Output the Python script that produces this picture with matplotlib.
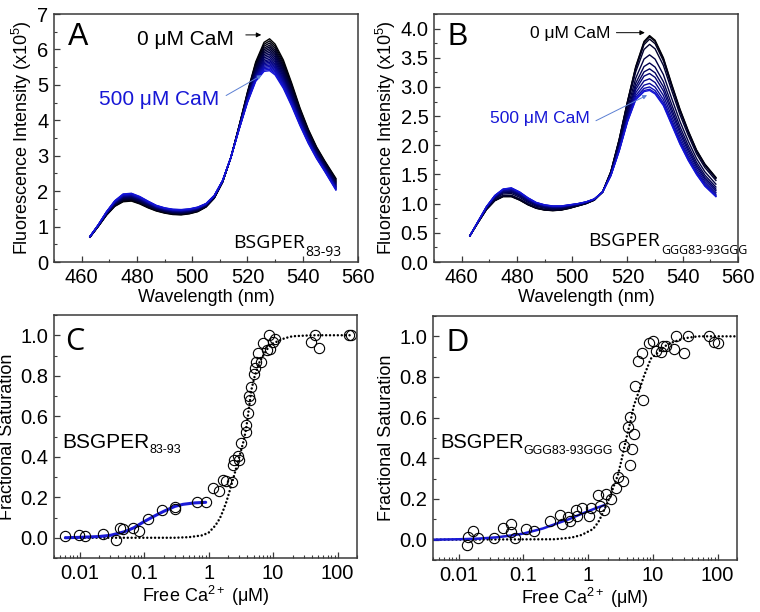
import numpy as np
import matplotlib
matplotlib.use("Agg")
import matplotlib.pyplot as plt
from matplotlib.colors import LinearSegmentedColormap
from matplotlib.ticker import MultipleLocator, FixedLocator, LogLocator, NullFormatter, FixedFormatter

plt.rcParams['font.family'] = ['Liberation Sans', 'DejaVu Sans']
plt.rcParams['mathtext.fontset'] = 'custom'
plt.rcParams['mathtext.rm'] = 'Liberation Sans'
plt.rcParams['mathtext.it'] = 'Liberation Sans:italic'
plt.rcParams['mathtext.default'] = 'regular'

# ---------------- data ----------------
wavelength = [463, 466, 469, 472, 475, 478, 481, 484, 487, 490, 493, 496, 499, 502,
              505, 508, 511, 514, 517, 520, 523, 526, 528, 530, 533, 536, 539, 542,
              545, 548, 552]

# Panel A spectra (x10^5)
specA_0uM = [0.70, 1.00, 1.32, 1.57, 1.70, 1.72, 1.64, 1.53, 1.44, 1.38, 1.34, 1.33, 1.36, 1.42,
             1.55, 1.80, 2.25, 2.95, 3.85, 4.80, 5.65, 6.20, 6.30, 6.15, 5.70, 5.05, 4.35, 3.75,
             3.25, 2.85, 2.36]
specA_500uM = [0.72, 1.05, 1.42, 1.73, 1.92, 1.94, 1.85, 1.72, 1.60, 1.53, 1.49, 1.48, 1.50, 1.55,
               1.65, 1.88, 2.30, 2.95, 3.75, 4.50, 5.10, 5.38, 5.40, 5.28, 4.90, 4.40, 3.85, 3.35,
               2.92, 2.55, 2.03]
peaksA = [6.30, 6.24, 6.18, 6.12, 6.07, 6.02, 5.97, 5.92, 5.87, 5.82, 5.77, 5.72, 5.68, 5.64,
          5.60, 5.56, 5.52, 5.48, 5.44, 5.40]

# Panel B spectra (x10^5)
specB_0uM = [0.45, 0.68, 0.90, 1.05, 1.12, 1.12, 1.06, 0.98, 0.92, 0.89, 0.88, 0.89, 0.92, 0.96,
             1.00, 1.06, 1.20, 1.55, 2.10, 2.75, 3.35, 3.78, 3.88, 3.80, 3.50, 3.05, 2.62, 2.25,
             1.92, 1.68, 1.45]
specB_500uM = [0.45, 0.70, 0.95, 1.14, 1.25, 1.27, 1.20, 1.10, 1.02, 0.98, 0.96, 0.96, 0.98, 1.00,
               1.03, 1.08, 1.20, 1.48, 1.90, 2.40, 2.78, 2.92, 2.94, 2.88, 2.68, 2.35, 2.02, 1.74,
               1.50, 1.30, 1.12]
peaksB = [3.88, 3.86, 3.82, 3.73, 3.55, 3.41, 3.31, 3.23, 3.14, 3.06, 3.00, 2.96, 2.94]

# Panel C titration
caC = [0.0059, 0.0099, 0.0121, 0.023, 0.037, 0.042, 0.047, 0.066, 0.083, 0.115, 0.19, 0.30,
       0.305, 0.65, 0.90, 1.17, 1.45, 1.68, 1.84, 2.34, 2.40, 2.50, 2.90, 2.95, 3.23, 3.77,
       3.77, 4.10, 4.25, 4.45, 4.60, 5.0, 5.2, 5.5, 5.86, 6.6, 7.0, 7.9, 8.7, 9.0, 10.0, 10.6,
       39, 44, 52, 151, 160]
fsC = [0.01, 0.013, 0.01, 0.02, -0.012, 0.05, 0.043, 0.05, 0.033, 0.095, 0.137, 0.15,
       0.14, 0.175, 0.175, 0.247, 0.23, 0.285, 0.28, 0.276, 0.358, 0.383, 0.405, 0.386, 0.47, 0.559,
       0.523, 0.618, 0.699, 0.68, 0.745, 0.81, 0.836, 0.87, 0.91, 0.87, 0.964, 0.926, 1.0, 0.934, 0.967, 0.98,
       0.967, 1.0, 0.937, 1.0, 1.0]
fitC_blue_x = [0.006, 0.01, 0.02, 0.03, 0.05, 0.07, 0.1, 0.15, 0.2, 0.3, 0.4, 0.6, 0.9]
fitC_blue_y = [0.0, 0.002, 0.006, 0.012, 0.03, 0.05, 0.08, 0.11, 0.13, 0.155, 0.165, 0.172, 0.175]
fitC_dot_x = [0.006, 0.3, 0.5, 0.8, 1.0, 1.27, 1.49, 1.66, 1.89, 2.3, 2.6, 3.0, 3.5, 3.8, 4.1,
              4.6, 5.1, 6.0, 6.6, 8.0, 10, 15, 20, 40, 160]
fitC_dot_y = [0.0, 0.0, 0.003, 0.012, 0.025, 0.06, 0.095, 0.13, 0.178, 0.27, 0.33, 0.40, 0.48,
              0.535, 0.61, 0.73, 0.79, 0.86, 0.885, 0.93, 0.96, 0.985, 0.995, 1.0, 1.0]

# Panel D titration
caD = [0.0137, 0.0135, 0.0166, 0.0196, 0.0346, 0.048, 0.065, 0.064, 0.074, 0.109, 0.146, 0.257,
       0.366, 0.39, 0.49, 0.53, 0.66, 0.68, 0.79, 1.03, 1.11, 1.43, 1.51, 1.74, 1.91, 2.29, 2.73,
       2.9, 3.45, 3.54, 4.12, 4.38, 4.38, 4.7, 5.05, 5.23, 5.89, 6.86, 7.0, 8.67, 10.2, 11.0,
       13.4, 14.3, 16.0, 21.5, 22.8, 30.7, 34.5, 74.5, 86.7, 100]
fsD = [0.011, -0.026, 0.042, 0.007, 0.007, 0.059, 0.075, 0.039, 0.007, 0.052, 0.044, 0.093,
       0.121, 0.077, 0.11, 0.093, 0.147, 0.118, 0.158, 0.118, 0.158, 0.219, 0.167, 0.147, 0.224,
       0.199, 0.252, 0.306, 0.289, 0.461, 0.554, 0.605, 0.366, 0.444, 0.518, 0.755, 0.877, 0.918,
       0.686, 0.967, 0.975, 0.926, 0.922, 0.951, 0.954, 0.938, 1.003, 0.918, 1.003, 1.003, 0.971,
       0.967]
fitD_blue_x = [0.004, 0.01, 0.02, 0.04, 0.07, 0.1, 0.2, 0.3, 0.5, 0.7, 1.0, 1.4, 1.8]
fitD_blue_y = [0.0, 0.002, 0.005, 0.012, 0.022, 0.03, 0.055, 0.075, 0.1, 0.12, 0.14, 0.158, 0.17]
fitD_dot_x = [0.004, 0.3, 0.55, 0.79, 1.19, 1.43, 1.61, 2.1, 2.9, 3.38, 3.9, 4.5, 5.1, 6.1,
              7.2, 9.3, 12, 15, 20, 30, 50, 200]
fitD_dot_y = [0.0, 0.002, 0.01, 0.023, 0.052, 0.085, 0.118, 0.2, 0.32, 0.41, 0.50, 0.58, 0.66,
              0.73, 0.80, 0.89, 0.92, 0.95, 0.97, 0.99, 1.0, 1.0]

# ---------------- figure ----------------
W, H = 760, 612
fig = plt.figure(figsize=(W / 100, H / 100), dpi=100)


def px_axes(l, t, r, b):
    return fig.add_axes([l / W, 1 - b / H, (r - l) / W, (b - t) / H])


axA = px_axes(54, 14, 358, 262)
axB = px_axes(434, 14, 738, 262)
axC = px_axes(54, 315, 357, 558)
axD = px_axes(433, 316, 737, 560)

TICKFAMILY = ['Liberation Sans Narrow', 'Liberation Sans']
TICKSIZE = 14.5
LABELSIZE = 13
cmap = LinearSegmentedColormap.from_list('bk2bl', ['#000000', '#000060', '#1414d8'])


def style(ax):
    for s in ax.spines.values():
        s.set_color('#3a3a3a')
        s.set_linewidth(1.1)
    ax.tick_params(which='both', direction='in', top=False, right=False, colors='#3a3a3a',
                   labelcolor='black', labelsize=TICKSIZE, labelfontfamily=TICKFAMILY)
    ax.tick_params(which='major', length=4, width=0.9, pad=4)
    ax.tick_params(which='minor', length=2.3, width=0.8)


def spectra(ax, s0, s1, peaks):
    s0 = np.asarray(s0)
    s1 = np.asarray(s1)
    p0, p1 = peaks[0], peaks[-1]
    n = len(peaks)
    for i, p in enumerate(peaks):
        f = (p0 - p) / (p0 - p1)
        ax.plot(wavelength, s0 + f * (s1 - s0), color=cmap(i / (n - 1)), lw=1.0)


# Panel A
spectra(axA, specA_0uM, specA_500uM, peaksA)
axA.set_xlim(450, 560)
axA.set_ylim(0, 7)
axA.xaxis.set_major_locator(FixedLocator([460, 480, 500, 520, 540, 560]))
axA.xaxis.set_minor_locator(MultipleLocator(10))
axA.yaxis.set_major_locator(MultipleLocator(1))
axA.yaxis.set_minor_locator(MultipleLocator(0.5))
axA.set_xlabel('Wavelength (nm)', fontsize=LABELSIZE, labelpad=2)
axA.set_ylabel('Fluorescence Intensity (x10$^{5}$)', fontsize=LABELSIZE, labelpad=2)
style(axA)
axA.text(0.046, 0.875, 'A', transform=axA.transAxes, fontsize=22)
axA.text(0.273, 0.875, '0 μM CaM', transform=axA.transAxes, fontsize=15)
axA.annotate('', xy=(526, 6.41), xytext=(518.4, 6.41),
             arrowprops=dict(arrowstyle='-|>', color='black', lw=0.7, mutation_scale=7))
axA.text(0.148, 0.633, '500 μM CaM', transform=axA.transAxes, fontsize=15, color='#1717d6')
axA.annotate('', xy=(526, 5.31), xytext=(511.4, 4.66),
             arrowprops=dict(arrowstyle='-|>', color='#5b7fd3', lw=0.7, mutation_scale=6))
tA = axA.text(0.589, 0.056, 'BSGPER', transform=axA.transAxes, fontsize=14, family='Open Sans')
axA.annotate('83-93', xy=(1, 0), xycoords=tA, xytext=(0.5, -3), textcoords='offset points',
             fontsize=10, family=['Liberation Sans Narrow', 'Open Sans'], va='baseline')

# Panel B
spectra(axB, specB_0uM, specB_500uM, peaksB)
axB.set_xlim(450, 560)
axB.set_ylim(0, 4.25)
axB.xaxis.set_major_locator(FixedLocator([460, 480, 500, 520, 540, 560]))
axB.xaxis.set_minor_locator(MultipleLocator(10))
axB.yaxis.set_major_locator(MultipleLocator(0.5))
axB.yaxis.set_minor_locator(MultipleLocator(0.25))
axB.yaxis.set_major_formatter(matplotlib.ticker.FormatStrFormatter('%.1f'))
axB.set_xlabel('Wavelength (nm)', fontsize=LABELSIZE, labelpad=2)
axB.set_ylabel('Fluorescence Intensity (x10$^{5}$)', fontsize=LABELSIZE, labelpad=2)
style(axB)
axB.text(0.046, 0.875, 'B', transform=axB.transAxes, fontsize=22)
axB.text(0.317, 0.903, '0 μM CaM', transform=axB.transAxes, fontsize=12.5)
axB.annotate('', xy=(527.3, 3.93), xytext=(515, 3.93),
             arrowprops=dict(arrowstyle='-|>', color='black', lw=0.7, mutation_scale=7))
axB.text(0.185, 0.56, '500 μM CaM', transform=axB.transAxes, fontsize=12.5, color='#1717d6')
axB.annotate('', xy=(528, 2.88), xytext=(507.7, 2.40),
             arrowprops=dict(arrowstyle='-|>', color='#5b7fd3', lw=0.7, mutation_scale=6))
tB = axB.text(0.508, 0.065, 'BSGPER', transform=axB.transAxes, fontsize=14, family='Open Sans')
axB.annotate('GGG83-93GGG', xy=(1, 0), xycoords=tB, xytext=(0.5, -3), textcoords='offset points',
             fontsize=9, family=['Liberation Sans Narrow', 'Open Sans'], va='baseline')


def titration(ax, x, y, bx, by, dx, dy, blue_lw):
    ax.plot(dx, dy, color='black', lw=1.8, linestyle=(0, (0.01, 1.55)), dash_capstyle='round',
            solid_capstyle='round')
    ax.plot(bx, by, color='#1a1ad6', lw=blue_lw, solid_capstyle='round')
    ax.plot(x, y, linestyle='none', marker='o', markersize=7.4, markerfacecolor='none',
            markeredgecolor='black', markeredgewidth=0.8)
    ax.set_xscale('log')
    ax.set_xlim(0.004, 200)
    ax.set_ylim(-0.1, 1.1)
    ax.xaxis.set_major_locator(FixedLocator([0.01, 0.1, 1, 10, 100]))
    ax.xaxis.set_major_formatter(FixedFormatter(['0.01', '0.1', '1', '10', '100']))
    ax.xaxis.set_minor_locator(LogLocator(base=10, subs=np.arange(2, 10), numticks=20))
    ax.xaxis.set_minor_formatter(NullFormatter())
    ax.yaxis.set_major_locator(MultipleLocator(0.2))
    ax.yaxis.set_minor_locator(MultipleLocator(0.1))
    ax.yaxis.set_major_formatter(matplotlib.ticker.FormatStrFormatter('%.1f'))
    ax.set_xlabel('Free Ca$^{2+}$ (μM)', fontsize=LABELSIZE, labelpad=1)
    ax.set_ylabel('Fractional Saturation', fontsize=LABELSIZE, labelpad=3)
    style(ax)


titration(axC, caC, fsC, fitC_blue_x, fitC_blue_y, fitC_dot_x, fitC_dot_y, 2.2)
axC.text(0.036, 0.856, 'C', transform=axC.transAxes, fontsize=22, family='Open Sans')
tC = axC.text(0.026, 0.453, 'BSGPER', transform=axC.transAxes, fontsize=15)
axC.annotate('83-93', xy=(1, 0), xycoords=tC, xytext=(0, -1), textcoords='offset points',
             fontsize=9, family=['Liberation Sans Narrow', 'Liberation Sans'], va='baseline')

titration(axD, caD, fsD, fitD_blue_x, fitD_blue_y, fitD_dot_x, fitD_dot_y, 1.8)
axD.text(0.046, 0.857, 'D', transform=axD.transAxes, fontsize=22)
tD = axD.text(0.023, 0.459, 'BSGPER', transform=axD.transAxes, fontsize=14.5)
axD.annotate('GGG83-93GGG', xy=(1, 0), xycoords=tD, xytext=(0, -1.5), textcoords='offset points',
             fontsize=9, family=['Liberation Sans Narrow', 'Liberation Sans'], va='baseline')

fig.savefig('out.png', dpi=100)
